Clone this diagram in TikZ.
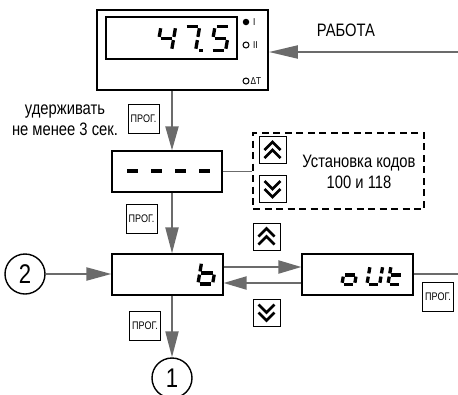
\documentclass[tikz,border=0pt]{standalone}
\usepackage{fontspec}
\setmainfont{Liberation Sans}[FakeStretch=0.82]
\usetikzlibrary{arrows.meta}
\definecolor{arr}{HTML}{6B6B6B}
\newcommand\SEG[1]{%
  \ifx a#1\draw (\gl+\gp,\htp) -- (\gr-\gp,\htp);\fi
  \ifx b#1\draw (\gr,\htp-\gp) -- (\gr,\hm+\gp);\fi
  \ifx c#1\draw (\gr,\hm-\gp) -- (\gr,\hb+\gp);\fi
  \ifx d#1\draw (\gl+\gp,\hb) -- (\gr-\gp,\hb);\fi
  \ifx e#1\draw (\gl,\hm-\gp) -- (\gl,\hb+\gp);\fi
  \ifx f#1\draw (\gl,\htp-\gp) -- (\gl,\hm+\gp);\fi
  \ifx g#1\draw (\gl+\gp,\hm) -- (\gr-\gp,\hm);\fi}
\newcommand\sevenseg[5]{%
  \begin{scope}[shift={(#1,#2)}, xslant=0.17, x=1pt, y=1pt, line width=3.3pt]
    \pgfmathsetmacro\gl{1.65}\pgfmathsetmacro\gr{#4-1.65}
    \pgfmathsetmacro\htp{#3-1.65}\pgfmathsetmacro\hm{#3/2}
    \def\hb{1.65}\def\gp{1.6}
    \foreach \s in {#5}{\expandafter\SEG\s}
  \end{scope}}
\tikzset{
  disp/.style={draw, line width=1.2pt, inner sep=0, minimum width=#1, minimum height=41pt},
  prog/.style={draw, line width=0.9pt, inner sep=0, minimum width=31pt, minimum height=29pt,
    font=\fontsize{11}{11}\selectfont},
  conn/.style={draw=arr, line width=2.1pt},
  arrow/.style={conn, -{Triangle[length=#1, width=13pt]}},
  btn/.style={draw, line width=0.9pt, inner sep=0, minimum size=27pt},
  chev/.style={line width=2.6pt, miter limit=10},
  upbtn/.style={btn, path picture={
    \draw[chev] ([shift={(-8pt,0pt)}]path picture bounding box.center) -- ++(8pt,8pt) -- ++(8pt,-8pt);
    \draw[chev] ([shift={(-8pt,-8pt)}]path picture bounding box.center) -- ++(8pt,8pt) -- ++(8pt,-8pt);}},
  dnbtn/.style={btn, path picture={
    \draw[chev] ([shift={(-8pt,0pt)}]path picture bounding box.center) -- ++(8pt,-8pt) -- ++(8pt,8pt);
    \draw[chev] ([shift={(-8pt,8pt)}]path picture bounding box.center) -- ++(8pt,-8pt) -- ++(8pt,8pt);}},
  txt/.style={font=\fontsize{18}{21}\selectfont, inner sep=0, align=center},
  small/.style={font=\fontsize{10}{10}\selectfont, inner sep=0},
  rnd/.style={draw, circle, line width=1.4pt, minimum size=40pt, inner sep=0, font=\fontsize{27}{27}\selectfont}
}
\begin{document}
\begin{tikzpicture}[x=1pt, y=-1pt]
\useasboundingbox (0,0) rectangle (458,394);
% top device
\node[draw, line width=1.8pt, minimum width=171pt, minimum height=80pt, inner sep=0] (top) at (182.5,50) {};
\node[draw, line width=1.1pt, minimum width=131pt, minimum height=42pt, inner sep=0] (scr) at (171.5,38) {};
\sevenseg{155}{52}{27}{18}{f,g,b,c}
\sevenseg{179}{52}{27}{18}{a,b,c}
\fill (199,48.7) rectangle (202.5,52);
\sevenseg{209}{52}{27}{18}{a,f,g,c,d}
\node[circle, fill, inner sep=0, minimum size=6.5pt] (led1) at (246,22) {};
\node[small, anchor=west] (l1) at (253,22) {I};
\node[circle, draw, line width=1pt, inner sep=0, minimum size=6pt] (led2) at (246,45) {};
\node[small, anchor=west] (l2) at (253,45) {II};
\node[circle, draw, line width=1pt, inner sep=0, minimum size=6pt] (led3) at (246,81) {};
\node[small, anchor=west] (l3) at (250.5,81) {ΔT};
% work arrow
\node[txt] (work) at (346,30) {РАБОТА};
\coordinate (win) at (458,52);
\draw[arrow=29pt] (win) -- (win -| top.east);
% hold text and prog
\node[txt] (hold) at (65,120.5) {удерживать\\не менее 3 сек.};
\node[prog] (p1) at (143.5,118.5) {ПРОГ.};
% dash display
\node[disp=110pt] (dash) at (167,171.5) {};
\foreach \xa in {127,151,175,199}{\draw[line width=3.6pt] (\xa,171) -- +(11,0);}
\coordinate (vx) at (172,0);
\draw[arrow=24pt] (top.south -| vx) -- (dash.north -| vx);
% dashed region
\node[draw, line width=2pt, dash pattern=on 7pt off 4.5pt, inner sep=0, minimum width=171pt, minimum height=76pt] (reg) at (338.5,171) {};
\node[upbtn] (ua) at (272.5,150) {};
\node[dnbtn] (da) at (272.5,189) {};
\node[txt] (codes) at (359,172) {Установка кодов\\100 и 118};
\draw[conn, line width=1.6pt] (dash.east) -- (dash.east -| reg.west);
% b display
\node[prog] (p2) at (141.5,218.5) {ПРОГ.};
\node[disp=111pt] (bb) at (167.5,274.5) {};
\sevenseg{196}{285.5}{25}{18}{f,e,g,c,d}
\draw[arrow=26pt] (dash.south -| vx) -- (bb.north -| vx);
\node[rnd] (c2) at (25,274) {2};
\draw[arrow=25pt] (c2.east) -- (bb.west |- c2.east);
% out display
\node[disp=111pt] (out) at (357.5,274.5) {};
\sevenseg{340}{286}{22}{16}{g,c,d,e}
\sevenseg{365}{286}{22}{16}{f,e,d,c,b}
\sevenseg{386}{286}{22}{16}{f,e,g,d}
\node[upbtn] (ub) at (266.5,236.5) {};
\node[dnbtn] (db) at (266.5,312.5) {};
\draw[arrow=23pt] ([yshift=7.5pt]bb.east) -- ([yshift=7.5pt]out.west);
\draw[arrow=23pt] ([yshift=-8.5pt]out.west) -- ([yshift=-8.5pt]bb.east);
\coordinate (oend) at (458,274);
\draw[conn] (out.east |- oend) -- (oend);
\node[prog] (p4) at (438,297) {ПРОГ.};
% exit
\node[prog] (p3) at (145,326) {ПРОГ.};
\node[rnd] (c1) at (172,378) {1};
\draw[arrow=26pt] (bb.south -| vx) -- (c1.north);
\end{tikzpicture}
\end{document}
